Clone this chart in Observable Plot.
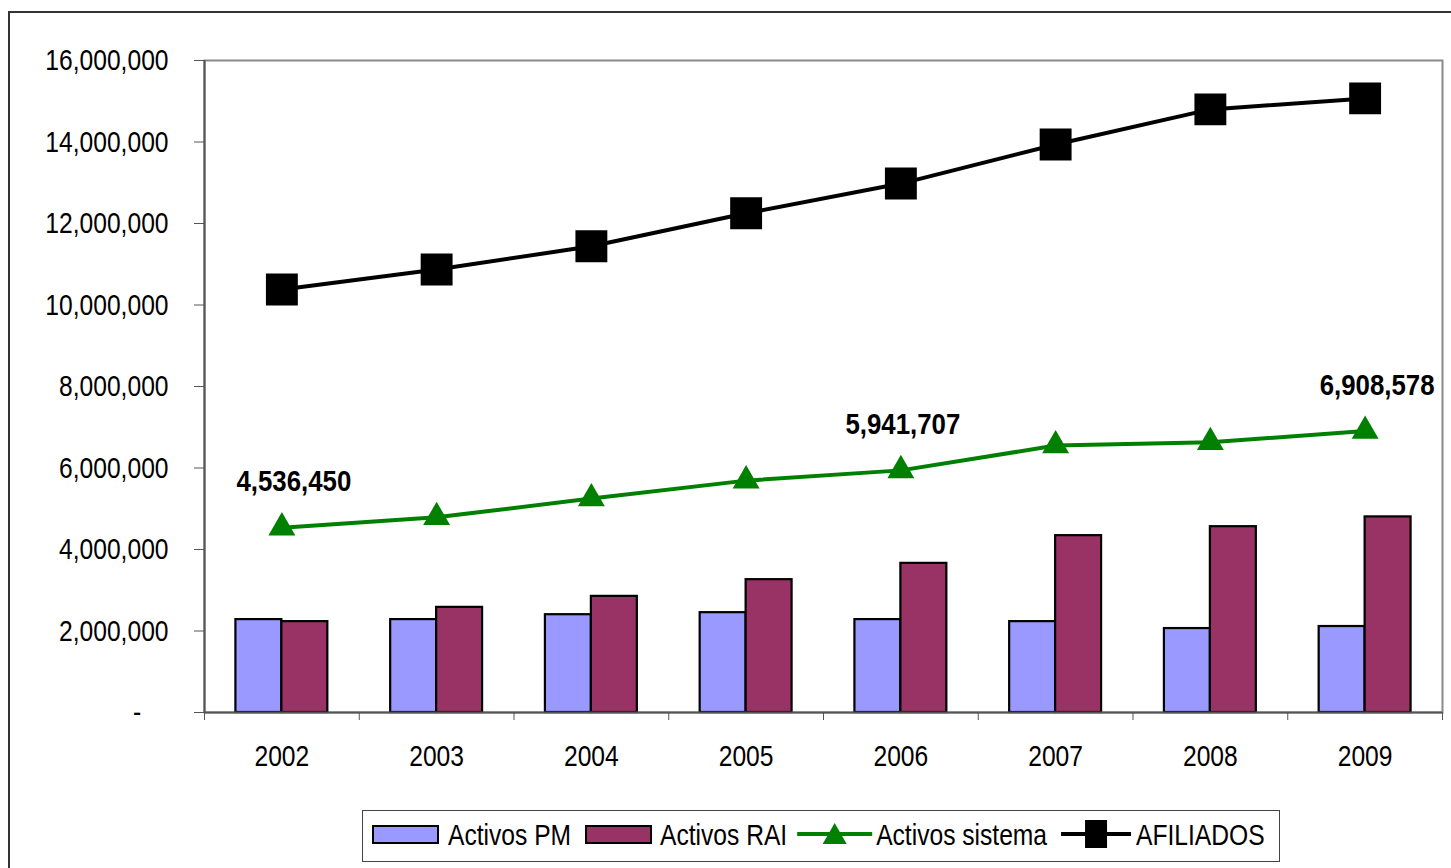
<!DOCTYPE html>
<html>
<head>
<meta charset="utf-8">
<script src="https://cdn.jsdelivr.net/npm/d3@7"></script>
<script src="https://cdn.jsdelivr.net/npm/@observablehq/plot@0.6"></script>
<style>
  html, body { margin: 0; padding: 0; background: white; overflow: hidden; }
  #wrap { position: relative; width: 1451px; height: 868px; font-family: "Liberation Sans", Arial, sans-serif; }
  #border { position: absolute; left: 8px; top: 11px; width: 1500px; height: 900px; border-left: 2px solid #333; border-top: 2px solid #333; box-sizing: border-box; }
  #chart { position: absolute; left: 0; top: 0; }
  #legend { position: absolute; left: 362px; top: 810px; width: 918px; height: 52px; border: 1.5px solid #444; box-sizing: border-box; background: white; overflow: visible; }
  #legend svg { display: block; overflow: visible; }
</style>
</head>
<body>
<div id="wrap">
  <div id="border"></div>
  <div id="chart"></div>
  <div id="legend"></div>
</div>
<script>
const years = [2002, 2003, 2004, 2005, 2006, 2007, 2008, 2009];
const activosPM = [2280000, 2280000, 2400000, 2450000, 2280000, 2230000, 2060000, 2110000];
const activosRAI = [2230000, 2580000, 2850000, 3260000, 3660000, 4340000, 4560000, 4800000];
const activosSistema = [4536450, 4790000, 5250000, 5690000, 5941707, 6550000, 6630000, 6908578];
const afiliados = [10380000, 10870000, 11440000, 12250000, 12980000, 13940000, 14800000, 15070000];
const labeledYears = [2002, 2006, 2009];
const yTicks = [0, 2000000, 4000000, 6000000, 8000000, 10000000, 12000000, 14000000, 16000000];
const seriesNames = ["Activos PM", "Activos RAI", "Activos sistema", "AFILIADOS"];

// styling
const colPM = "#9999FF", colRAI = "#993366", colSis = "#008000", colAf = "#000000";
const half = 0.297;
const font = '"Liberation Sans", Arial, sans-serif';
const NARROW = 0.82, NARROW_BOLD = 0.86;
const labelDx = {2002: 12, 2006: 2, 2009: 12};

const pm = years.map((y, i) => ({year: y, value: activosPM[i]}));
const rai = years.map((y, i) => ({year: y, value: activosRAI[i]}));
const sis = years.map((y, i) => ({year: y, value: activosSistema[i]}));
const af = years.map((y, i) => ({year: y, value: afiliados[i]}));
const labels = sis.filter(d => labeledYears.includes(d.year));
const boundaries = years.map(y => y - 0.5).concat([years[years.length - 1] + 0.5]);
const fmt = d3.format(",");
const nb = "\u00a0";

function condense(root) {
  root.querySelectorAll("text").forEach(t => {
    const L = t.getComputedTextLength();
    const bold = t.closest("[font-weight='bold']") || t.getAttribute("font-weight") === "bold";
    if (L > 0) {
      t.setAttribute("textLength", (L * (bold ? NARROW_BOLD : NARROW)).toFixed(2));
      t.setAttribute("lengthAdjust", "spacingAndGlyphs");
    }
  });
}

const chart = Plot.plot({
  width: 1451,
  height: 790,
  marginLeft: 204,
  marginRight: 9,
  marginTop: 60,
  marginBottom: 78,
  style: {fontFamily: font, fontSize: "30px", color: "black", background: "transparent", overflow: "visible"},
  x: {type: "linear", domain: [years[0] - 0.5, years[years.length - 1] + 0.5]},
  y: {domain: [0, 16000000]},
  marks: [
    Plot.frame({stroke: "#8a8a8a", strokeWidth: 2}),
    Plot.rectY(pm, {x1: d => d.year - half, x2: d => d.year, y: "value", fill: colPM, stroke: "black", strokeWidth: 2.2}),
    Plot.rectY(rai, {x1: d => d.year, x2: d => d.year + half, y: "value", fill: colRAI, stroke: "black", strokeWidth: 2.2}),
    Plot.axisY({ticks: yTicks, tickSize: 10, tickPadding: 26, label: null, stroke: "#555",
      tickFormat: d => d === 0 ? "-" + nb + nb + nb + nb : fmt(d)}),
    Plot.ruleX([years[0] - 0.5], {stroke: "#555", strokeWidth: 2}),
    Plot.ruleY([0], {stroke: "#555", strokeWidth: 2}),
    Plot.axisX({ticks: boundaries, tickSize: 8, tickFormat: () => "", label: null, stroke: "#555"}),
    Plot.axisX({ticks: years, tickSize: 0, tickPadding: 32, tickFormat: d => String(d), label: null}),
    Plot.line(sis, {x: "year", y: "value", stroke: colSis, strokeWidth: 4}),
    Plot.dot(sis, {x: "year", y: "value", symbol: "triangle", r: 10, fill: colSis}),
    Plot.line(af, {x: "year", y: "value", stroke: colAf, strokeWidth: 4}),
    Plot.dot(af, {x: "year", y: "value", symbol: "square", r: 18, fill: colAf}),
    ...labels.map(l => Plot.text([l], {x: "year", y: "value", text: d => fmt(d.value), dy: -46, dx: labelDx[l.year] ?? 8,
      fontWeight: "bold", fontSize: 30, fill: "black"}))
  ]
});
document.getElementById("chart").appendChild(chart);
condense(chart);

// legend
const lsvg = d3.select("#legend").append("svg").attr("width", 915).attr("height", 49)
  .style("font-family", font).style("font-size", "30px");
const swatches = [
  {name: seriesNames[0], kind: "rect", color: colPM, w: 65, gapBefore: 10, gapText: 10},
  {name: seriesNames[1], kind: "rect", color: colRAI, w: 65, gapBefore: 15, gapText: 9},
  {name: seriesNames[2], kind: "tri", color: colSis, w: 75, gapBefore: 10, gapText: 4},
  {name: seriesNames[3], kind: "sq", color: colAf, w: 70, gapBefore: 14, gapText: 5}
];
const cy = 23;
let cx = 0;
swatches.forEach(s => {
  cx += s.gapBefore;
  const g = lsvg.append("g").attr("transform", `translate(${cx},0)`);
  if (s.kind === "rect") {
    g.append("rect").attr("x", 0).attr("y", cy - 8).attr("width", s.w).attr("height", 17)
      .attr("fill", s.color).attr("stroke", "black").attr("stroke-width", 2);
  } else {
    g.append("line").attr("x1", 0).attr("x2", s.w).attr("y1", cy).attr("y2", cy)
      .attr("stroke", s.color).attr("stroke-width", 4);
    const m = s.w / 2;
    if (s.kind === "tri") {
      g.append("path").attr("d", `M${m},${cy - 11} L${m + 12},${cy + 10} L${m - 12},${cy + 10} Z`).attr("fill", s.color);
    } else {
      g.append("rect").attr("x", m - 11).attr("y", cy - 14).attr("width", 22).attr("height", 28).attr("fill", s.color);
    }
  }
  cx += s.w + s.gapText;
  const t = lsvg.append("text").attr("x", cx).attr("y", cy).attr("dy", "0.36em").attr("fill", "black").text(s.name);
  const L = t.node().getComputedTextLength() * NARROW;
  t.attr("textLength", L.toFixed(2)).attr("lengthAdjust", "spacingAndGlyphs");
  cx += L;
});
</script>
</body>
</html>
